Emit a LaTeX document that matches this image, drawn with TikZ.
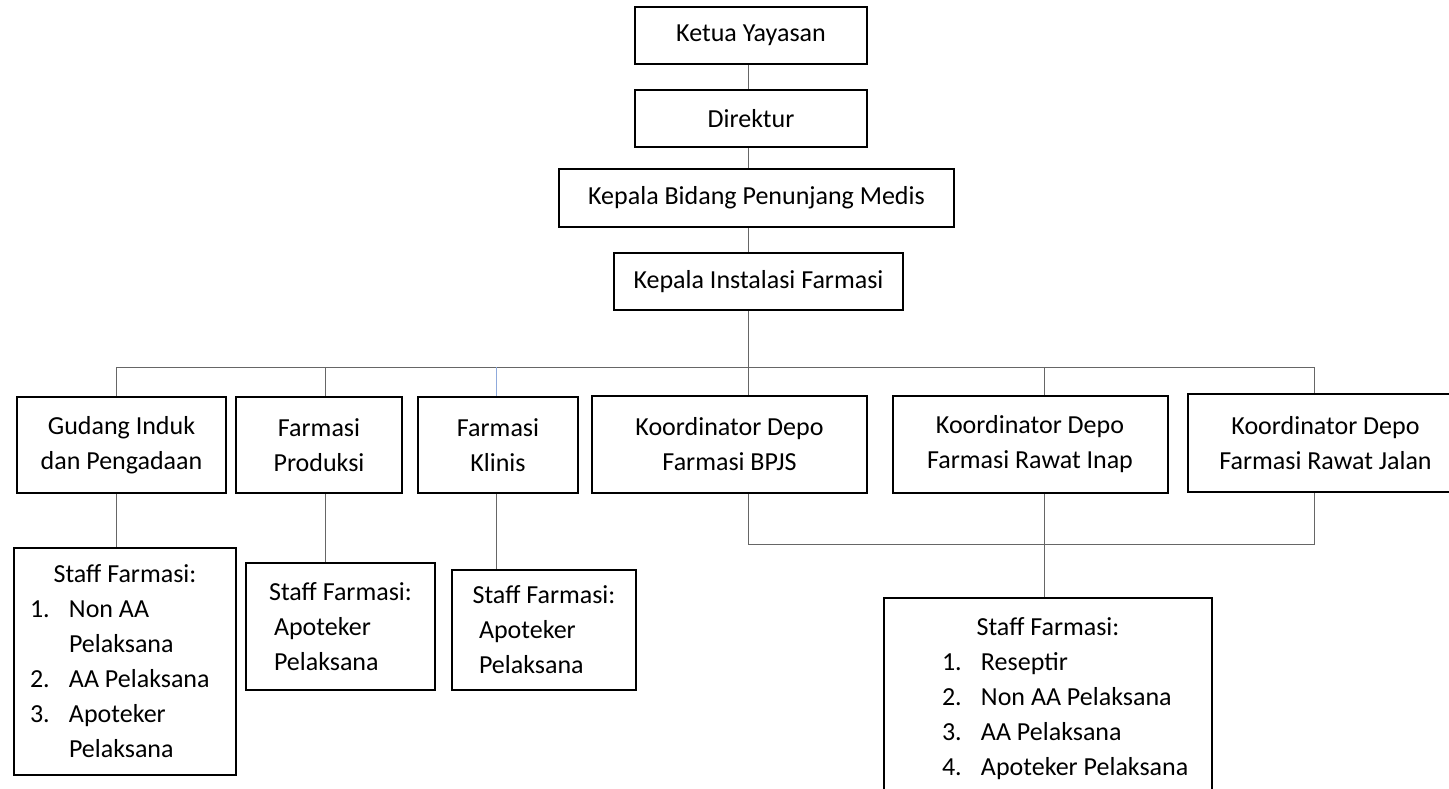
\documentclass[tikz,border=0pt]{standalone}
\usepackage{fontspec}
\setmainfont{Carlito}
\definecolor{linkblue}{RGB}{143,170,220}
\newcommand\staffline[3]{\hspace*{#1}\makebox[19.5pt][l]{#2}#3}
\begin{document}
\begin{tikzpicture}[x=0.5pt, y=-0.5pt,
  unit/.style={draw, line width=1pt, fill=white, align=center, inner sep=2pt,
    font=\fontsize{13pt}{17.5pt}\selectfont},
  staff/.style={unit, align=flush left, inner sep=0pt},
  link/.style={draw=black!60, line width=0.5pt}
]
\useasboundingbox[fill=white] (0,0) rectangle (1449,788);

% top of the chart
\node[unit, minimum width=116pt, minimum height=28.5pt] (ketua) at (751,35.5) {Ketua Yayasan};
\node[unit, minimum width=116pt, minimum height=28.5pt] (direktur) at (751,118.5) {Direktur};
\node[unit, minimum width=197.5pt, minimum height=29pt] (kabid) at (756.5,198) {Kepala Bidang Penunjang Medis};
\node[unit, minimum width=144.5pt, minimum height=28.5pt] (kains) at (758.5,281.5) {Kepala Instalasi Farmasi};

% units under the pharmacy head
\node[unit, minimum width=104.5pt, minimum height=48pt] (gudang) at (121.5,445) {Gudang Induk\\dan Pengadaan};
\node[unit, minimum width=83pt, minimum height=48pt] (produksi) at (319,445) {Farmasi\\Produksi};
\node[unit, minimum width=80pt, minimum height=48pt] (klinis) at (498,445) {Farmasi\\Klinis};
\node[unit, minimum width=137.5pt, minimum height=48.5pt] (bpjs) at (729.5,444.5) {Koordinator Depo\\Farmasi BPJS};
\node[unit, minimum width=137.5pt, minimum height=48.5pt] (inap) at (1030,444.5) {Koordinator Depo\\Farmasi Rawat Inap};
\node[unit, minimum width=137.5pt, minimum height=49pt] (jalan) at (1325.5,443) {Koordinator Depo\\Farmasi Rawat Jalan};

% staff boxes
\node[staff, text width=111pt, minimum height=113.5pt] (sgudang) at (125,661.5) {%
  \centerline{Staff Farmasi:}\\
  \staffline{8pt}{1.}{Non AA}\\
  \staffline{8pt}{}{Pelaksana}\\
  \staffline{8pt}{2.}{AA Pelaksana}\\
  \staffline{8pt}{3.}{Apoteker}\\
  \staffline{8pt}{}{Pelaksana}};
\node[staff, text width=94.5pt, minimum height=63.5pt] (sprod) at (340.5,626.5) {%
  \centerline{Staff Farmasi:}\\
  \hspace*{14pt}Apoteker\\
  \hspace*{14pt}Pelaksana};
\node[staff, text width=92pt, minimum height=60pt] (sklinis) at (544,630) {%
  \centerline{Staff Farmasi:}\\
  \hspace*{13.5pt}Apoteker\\
  \hspace*{13.5pt}Pelaksana};
\node[staff, text width=164pt, minimum height=101pt] (sdepo) at (1048,699) {%
  \centerline{Staff Farmasi:}\\
  \staffline{29pt}{1.}{Reseptir}\\
  \staffline{29pt}{2.}{Non AA Pelaksana}\\
  \staffline{29pt}{3.}{AA Pelaksana}\\
  \staffline{29pt}{4.}{Apoteker Pelaksana}};

% connector points
\coordinate (trunk) at (748,0);
\coordinate (cg) at (116,367);
\coordinate (cp) at (325,367);
\coordinate (ck) at (496,367);
\coordinate (cb) at (748,367);
\coordinate (ci) at (1044,367);
\coordinate (cj) at (1314,367);
\coordinate (lb) at (748,544);
\coordinate (li) at (1044,544);
\coordinate (lj) at (1314,544);

\draw[link] (trunk |- ketua.south) -- (trunk |- direktur.north);
\draw[link] (trunk |- direktur.south) -- (trunk |- kabid.north);
\draw[link] (trunk |- kabid.south) -- (trunk |- kains.north);
\draw[link] (trunk |- kains.south) -- (cb);
\draw[link] (cg) -- (cj);
\draw[link] (cg) -- (cg |- gudang.north);
\draw[link] (cp) -- (cp |- produksi.north);
\draw[link, draw=linkblue] (ck) -- (ck |- klinis.north);
\draw[link] (cb) -- (cb |- bpjs.north);
\draw[link] (ci) -- (ci |- inap.north);
\draw[link] (cj) -- (cj |- jalan.north);

\draw[link] (cg |- gudang.south) -- (cg |- sgudang.north);
\draw[link] (cp |- produksi.south) -- (cp |- sprod.north);
\draw[link] (ck |- klinis.south) -- (ck |- sklinis.north);
\draw[link] (lb |- bpjs.south) -- (lb) -- (lj) -- (lj |- jalan.south);
\draw[link] (li |- inap.south) -- (li |- sdepo.north);
\end{tikzpicture}
\end{document}
